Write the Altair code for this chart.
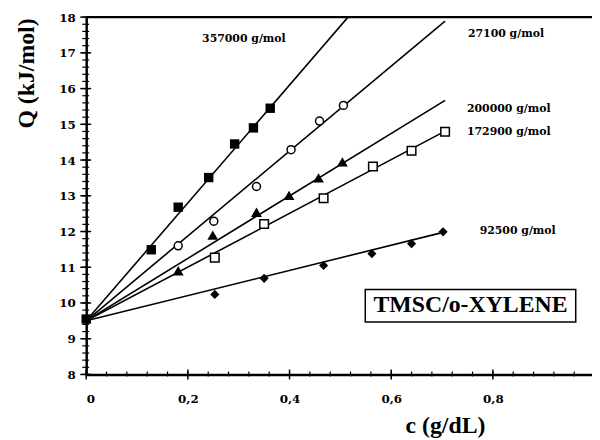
import altair as alt
import pandas as pd

# ---- data ----
c_357000 = [0.0, 0.128, 0.181, 0.241, 0.292, 0.329, 0.362]
q_357000 = [9.55, 11.49, 12.68, 13.51, 14.45, 14.90, 15.45]
c_27100 = [0.181, 0.251, 0.335, 0.403, 0.459, 0.506]
q_27100 = [11.60, 12.29, 13.26, 14.29, 15.09, 15.53]
c_200000 = [0.181, 0.249, 0.335, 0.399, 0.457, 0.504]
q_200000 = [10.90, 11.90, 12.54, 13.01, 13.50, 13.95]
c_172900 = [0.253, 0.350, 0.467, 0.564, 0.640, 0.706]
q_172900 = [11.27, 12.21, 12.93, 13.82, 14.26, 14.79]
c_92500 = [0.253, 0.350, 0.467, 0.562, 0.640, 0.702]
q_92500 = [10.24, 10.69, 11.05, 11.38, 11.66, 11.99]

# fitted straight lines (start / end points)
fit_names = ["357000", "27100", "200000", "172900", "92500"]
fit_c0 = [0.0, 0.0, 0.0, 0.0, 0.0]
fit_q0 = [9.5, 9.5, 9.5, 9.5, 9.5]
fit_c1 = [0.515, 0.706, 0.706, 0.706, 0.706]
fit_q1 = [18.0, 17.89, 15.67, 14.81, 11.99]

# series labels
lab_text = ["357000 g/mol", "27100 g/mol", "200000 g/mol", "172900 g/mol", "92500 g/mol"]
lab_c = [0.228, 0.751, 0.749, 0.749, 0.774]
lab_q = [17.39, 17.53, 15.42, 14.79, 12.02]

x_major = [0, 0.2, 0.4, 0.6, 0.8]
y_major = list(range(8, 19))
x_minor = [round(i * 0.04, 2) for i in range(0, 25)]
y_minor = [round(8 + i * 0.2, 1) for i in range(0, 51)]

XD = [0, 0.995]
YD = [8, 18]
SERIF = "Liberation Serif"
SMALL = "DejaVu Serif"

xs = alt.Scale(domain=XD, nice=False, zero=False)
ys = alt.Scale(domain=YD, nice=False, zero=False)

x_axis = alt.Axis(values=x_major, tickCount=20, ticks=False, grid=False, domain=True, domainWidth=2.5,
                  domainColor="black", labelFont=SMALL, labelFontWeight="bold", labelFontSize=12,
                  labelColor="black", labelPadding=19, title=None, labelOverlap=False,
                  labelExpr="datum.value == 0 ? '0' : replace(format(datum.value, '.1f'), '.', ',')")
y_axis = alt.Axis(values=y_major, tickCount=20, ticks=False, grid=False, domain=True, domainWidth=2.5,
                  domainColor="black", labelFont=SMALL, labelFontWeight="bold", labelFontSize=12,
                  labelColor="black", labelPadding=11, title=None, labelOverlap=False,
                  labelFlush=False, format="d")


def X(f):
    return alt.X(f, scale=xs, axis=x_axis)


def Y(f):
    return alt.Y(f, scale=ys, axis=y_axis)


fit_df = pd.DataFrame({"name": fit_names * 2, "c": fit_c0 + fit_c1, "q": fit_q0 + fit_q1,
                       "o": [0] * 5 + [1] * 5})

lines = alt.Chart(fit_df).mark_line(color="black", strokeWidth=1.6, clip=True).encode(
    x=X("c:Q"), y=Y("q:Q"), detail="name:N", order="o:Q")


def pts(cs, qs, shape, filled, size):
    df = pd.DataFrame({"c": cs, "q": qs})
    if filled:
        m = alt.Chart(df).mark_point(shape=shape, filled=True, color="black", size=size, opacity=1)
    else:
        m = alt.Chart(df).mark_point(shape=shape, filled=True, fill="white", stroke="black",
                                     strokeWidth=1.5, size=size, opacity=1)
    return m.encode(x=X("c:Q"), y=Y("q:Q"))


p1 = pts(c_357000, q_357000, "square", True, 90)
p2 = pts(c_27100, q_27100, "circle", False, 65)
p3 = pts(c_200000, q_200000, "triangle-up", True, 120)
p4 = pts(c_172900, q_172900, "square", False, 75)
p5 = pts(c_92500, q_92500, "diamond", True, 85)

lab_df = pd.DataFrame({"t": lab_text, "c": lab_c, "q": lab_q})
labels = alt.Chart(lab_df).mark_text(font=SMALL, fontWeight="bold", fontSize=11, align="left",
                                     baseline="middle", color="black").encode(
    x=X("c:Q"), y=Y("q:Q"), text="t:N")

# ticks crossing the axes
xt_major = alt.Chart(pd.DataFrame({"c": x_major})).mark_rule(
    color="black", strokeWidth=1.5, yOffset=-5, y2Offset=5).encode(
    x=X("c:Q"), y=alt.datum(8), y2=alt.datum(8))
xt_minor = alt.Chart(pd.DataFrame({"c": x_minor})).mark_rule(
    color="black", strokeWidth=1.2, yOffset=-3, y2Offset=2).encode(
    x=X("c:Q"), y=alt.datum(8), y2=alt.datum(8))
yt_major = alt.Chart(pd.DataFrame({"q": y_major})).mark_rule(
    color="black", strokeWidth=1.5, xOffset=-6, x2Offset=5).encode(
    y=Y("q:Q"), x=alt.datum(0), x2=alt.datum(0))
yt_minor = alt.Chart(pd.DataFrame({"q": y_minor})).mark_rule(
    color="black", strokeWidth=1.2, xOffset=-4, x2Offset=3).encode(
    y=Y("q:Q"), x=alt.datum(0), x2=alt.datum(0))

top_line = alt.Chart(pd.DataFrame({"q": [18]})).mark_rule(color="black", strokeWidth=2.5).encode(
    y=Y("q:Q"), x=alt.value(0), x2=alt.value(520))

box = alt.Chart(pd.DataFrame({"a": [0.549], "b": [0.963], "q1": [10.38], "q2": [9.47]})).mark_rect(
    fill="white", stroke="black", strokeWidth=1.5).encode(
    x=X("a:Q"), x2="b:Q", y=Y("q1:Q"), y2="q2:Q")
box_text = alt.Chart(pd.DataFrame({"t": ["TMSC/o-XYLENE"], "c": [0.756], "q": [9.93]})).mark_text(
    font=SERIF, fontWeight="bold", fontSize=24, align="center", baseline="middle",
    color="black").encode(x=X("c:Q"), y=Y("q:Q"), text="t:N")

y_title = alt.Chart(pd.DataFrame({"t": ["Q (kJ/mol)"]})).mark_text(
    font=SERIF, fontWeight="bold", fontSize=24, angle=270, align="center", baseline="middle",
    color="black").encode(x=alt.value(-60), y=alt.value(57), text="t:N")
x_title = alt.Chart(pd.DataFrame({"t": ["c (g/dL)"]})).mark_text(
    font=SERIF, fontWeight="bold", fontSize=24, align="center", baseline="middle",
    color="black").encode(x=alt.value(363), y=alt.value(413), text="t:N")

chart = alt.layer(
    lines, top_line, xt_minor, xt_major, yt_minor, yt_major,
    p1, p2, p3, p4, p5, labels, box, box_text, y_title, x_title
).properties(
    width=511, height=361,
    autosize=alt.AutoSizeParams(type="none"),
    padding={"left": 79, "top": 7, "right": 0, "bottom": 62},
).configure_view(stroke=None).configure_axis(labelOverlap=False).configure(background="white")

chart.save("out.html", embed_options={"renderer": "svg", "actions": False})
